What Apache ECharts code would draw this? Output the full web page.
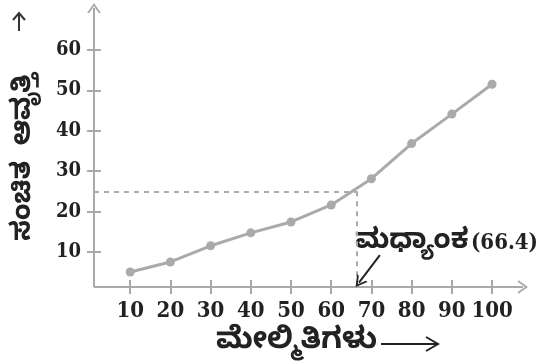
<!DOCTYPE html>
<html>
<head>
<meta charset="utf-8">
<script src="https://cdn.jsdelivr.net/npm/echarts@6/dist/echarts.min.js"></script>
<style>
html,body{margin:0;padding:0;background:#fff;}
#main{width:545px;height:364px;}
</style>
</head>
<body>
<div id="main"></div>
<script>
// ಮೇಲ್ಮಿತಿಗಳು (upper limits) and ಸಂಚಿತ ಆವೃತ್ತಿ (cumulative frequency)
var upperLimits = [10, 20, 30, 40, 50, 60, 70, 80, 90, 100];
var cumFreq = [5, 7.5, 11.5, 14.7, 17.4, 21.6, 28.1, 36.8, 44.1, 51.5];
var xTicks = [10, 20, 30, 40, 50, 60, 70, 80, 90, 100];
var yTicks = [10, 20, 30, 40, 50, 60];
var medianX = 66.4;
var medianY = 25;

var gray = '#aaaaaa';
var ink = '#222222';
var kn = '"Noto Sans Kannada","Noto Sans",sans-serif';
var numFont = '"DejaVu Serif Condensed","Liberation Serif",serif';
var chevron = 'path://M0,10 L5,0 L10,10 L8.4,10 L5,3.2 L1.6,10 Z';

var X0 = 1, X1 = 107.7, Y0 = 1.3, Y1 = 70.36;
var TL = 7; // half tick length, ticks cross the axis line

var points = [];
for (var i = 0; i < upperLimits.length; i++) {
    points.push([upperLimits[i], cumFreq[i]]);
}

var chartDom = document.getElementById('main');
var myChart = echarts.init(chartDom);

// axes are moved inwards by TL and have ticks of 2*TL, so ticks cross the
// axis lines, which are drawn as mark lines with open arrow heads
var option = {
    animation: false,
    grid: {left: 94, right: 22, top: 8, bottom: 77},
    xAxis: {
        type: 'value', min: X0, max: X1, offset: -TL,
        splitLine: {show: false},
        axisLine: {show: false, onZero: false},
        axisTick: {show: true, customValues: xTicks, length: 2 * TL, lineStyle: {color: gray, width: 2}},
        axisLabel: {show: true, customValues: xTicks, margin: 13 + TL, color: ink,
            fontFamily: numFont, fontWeight: 'bold', fontSize: 22}
    },
    yAxis: {
        type: 'value', min: Y0, max: Y1, offset: -TL,
        splitLine: {show: false},
        axisLine: {show: false, onZero: false},
        axisTick: {show: true, customValues: yTicks, length: 2 * TL, lineStyle: {color: gray, width: 2}},
        axisLabel: {show: true, customValues: yTicks, margin: 13 + TL, color: ink,
            fontFamily: numFont, fontWeight: 'bold', fontSize: 20}
    },
    series: [{
        type: 'line',
        clip: false,
        data: points,
        symbol: 'circle',
        symbolSize: 9,
        lineStyle: {color: gray, width: 3},
        itemStyle: {color: gray},
        z: 3,
        markLine: {
            silent: true,
            symbol: ['none', 'none'],
            label: {show: false},
            lineStyle: {color: gray, type: [5, 5], width: 2},
            data: [
                [{coord: [X0, medianY]}, {coord: [medianX, medianY]}],
                [{coord: [medianX, medianY]}, {coord: [medianX, Y0]}]
            ]
        }
    }, {
        // axis lines
        type: 'line',
        clip: false,
        data: [],
        markLine: {
            silent: true,
            symbol: ['none', chevron],
            symbolSize: [14, 10],
            label: {show: false},
            lineStyle: {color: gray, type: 'solid', width: 2},
            data: [
                [{coord: [X0, Y0]}, {coord: [X1, Y0]}],
                [{coord: [X0, Y0]}, {coord: [X0, Y1]}]
            ]
        }
    }, {
        // arrow pointing at the median
        type: 'line',
        clip: false,
        data: [],
        markLine: {
            silent: true,
            symbol: ['none', chevron],
            symbolSize: [13, 11],
            label: {show: false},
            lineStyle: {color: ink, type: 'solid', width: 2},
            data: [
                [{coord: [72.1, 9.2]}, {coord: [66.9, 2.4]}]
            ]
        }
    }],
    graphic: [
        {type: 'text', x: 355, y: 245,
            style: {text: 'ಮಧ್ಯಾಂಕ', font: 'bold 28px ' + kn, fill: ink, verticalAlign: 'middle'}},
        {type: 'text', x: 471, y: 243,
            style: {text: '(66.4)', font: 'bold 22px ' + numFont, fill: ink, verticalAlign: 'middle'}},
        {type: 'text', x: 216, y: 345,
            style: {text: 'ಮೇಲ್ಮಿತಿಗಳು', font: 'bold 30px ' + kn, fill: ink, verticalAlign: 'middle'}},
        {type: 'line', shape: {x1: 381, y1: 344, x2: 437, y2: 344},
            style: {stroke: ink, lineWidth: 2}},
        {type: 'polyline', shape: {points: [[426, 337], [438, 344], [426, 351]]},
            style: {stroke: ink, lineWidth: 2, fill: null}},
        {type: 'line', shape: {x1: 19, y1: 14, x2: 19, y2: 31},
            style: {stroke: '#333', lineWidth: 2}},
        {type: 'polyline', shape: {points: [[13, 20], [19, 13], [25, 20]]},
            style: {stroke: '#333', lineWidth: 2, fill: null}},
        {type: 'text', x: 27, y: 157, rotation: Math.PI / 2,
            style: {text: 'ಸಂಚಿತ  ಆವೃತ್ತಿ', font: 'bold 27px ' + kn, fill: ink,
                align: 'center', verticalAlign: 'middle'}}
    ]
};
myChart.setOption(option);
</script>
</body>
</html>
